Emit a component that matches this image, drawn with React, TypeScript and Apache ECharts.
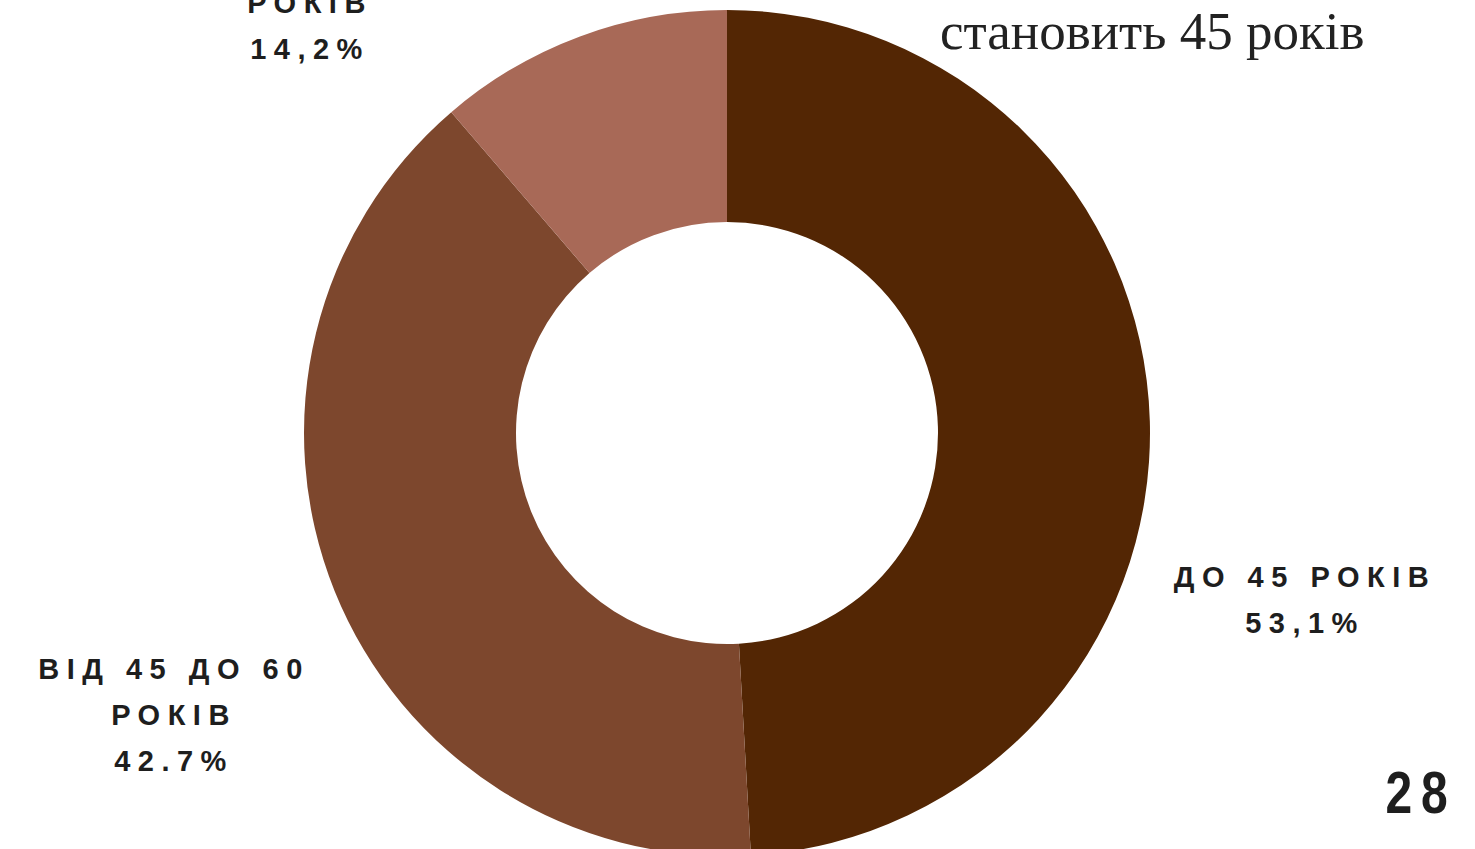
import React, { useEffect, useRef } from "react";
import * as echarts from "echarts";

// Category names (first label line(s))
const categories: string[] = ["ДО 45 РОКІВ", "ВІД 45 ДО 60\nРОКІВ", "ПОНАД 60\nРОКІВ"];
// Percent labels as printed on the chart
const percentLabels: string[] = ["53,1%", "42.7%", "14,2%"];
// Slice sizes as drawn (share of the ring, in %)
const sliceValues: number[] = [49.1, 39.6, 11.3];
// Slice colours
const sliceColors: string[] = ["#532604", "#7d472d", "#a86957"];
// Other texts
const titleLine = "становить 45 років";
const pageNumber = "28";

// label anchor positions (layout only)
const labelPositions: [number, number][] = [
  [1305, 600],
  [174, 715],
  [310, 3],
];

export default function App() {
  const ref = useRef<HTMLDivElement>(null);
  useEffect(() => {
    if (!ref.current) return;
    const chart = echarts.init(ref.current, undefined, { renderer: "svg" });
    chart.setOption({
      animation: false,
      backgroundColor: "#ffffff",
      series: [
        {
          type: "pie",
          center: [727, 433],
          radius: [211, 423],
          startAngle: 90,
          clockwise: true,
          avoidLabelOverlap: false,
          silent: true,
          itemStyle: { borderWidth: 0 },
          data: categories.map((name, i) => ({
            name,
            value: sliceValues[i],
            itemStyle: { color: sliceColors[i] },
          })),
          label: {
            show: true,
            position: "outside",
            formatter: (p: any) => `${p.name}\n${percentLabels[p.dataIndex]}`,
            color: "#1e1e1e",
            fontFamily: "Liberation Sans",
            fontWeight: "bold",
            fontSize: 29,
            lineHeight: 46,
            align: "center",
          },
          labelLine: { show: false },
          labelLayout: (params: any) => {
            const pos = labelPositions[params.dataIndex];
            return {
              x: pos[0],
              y: pos[1],
              align: "center",
              verticalAlign: "middle",
            };
          },
        },
      ],
      graphic: [
        {
          type: "text",
          left: 940,
          top: 4,
          style: {
            text: titleLine,
            fill: "#222222",
            font: "53px 'Liberation Serif'",
          },
        },
        {
          type: "text",
          x: 1421,
          y: 793,
          scaleX: 0.8,
          style: {
            text: pageNumber,
            fill: "#1e1e1e",
            font: "bold 60px 'Liberation Sans'",
            align: "center",
            verticalAlign: "middle",
          },
        },
      ],
    });
    return () => chart.dispose();
  }, []);
  return (
    <>
      <style>{`
        text[style*="Liberation Sans"] { letter-spacing: 7.5px; }
        text[style*="60px"] { letter-spacing: 11px; }
      `}</style>
      <div
        ref={ref}
        style={{ position: "absolute", left: 0, top: 0, width: 1475, height: 849 }}
      />
    </>
  );
}
